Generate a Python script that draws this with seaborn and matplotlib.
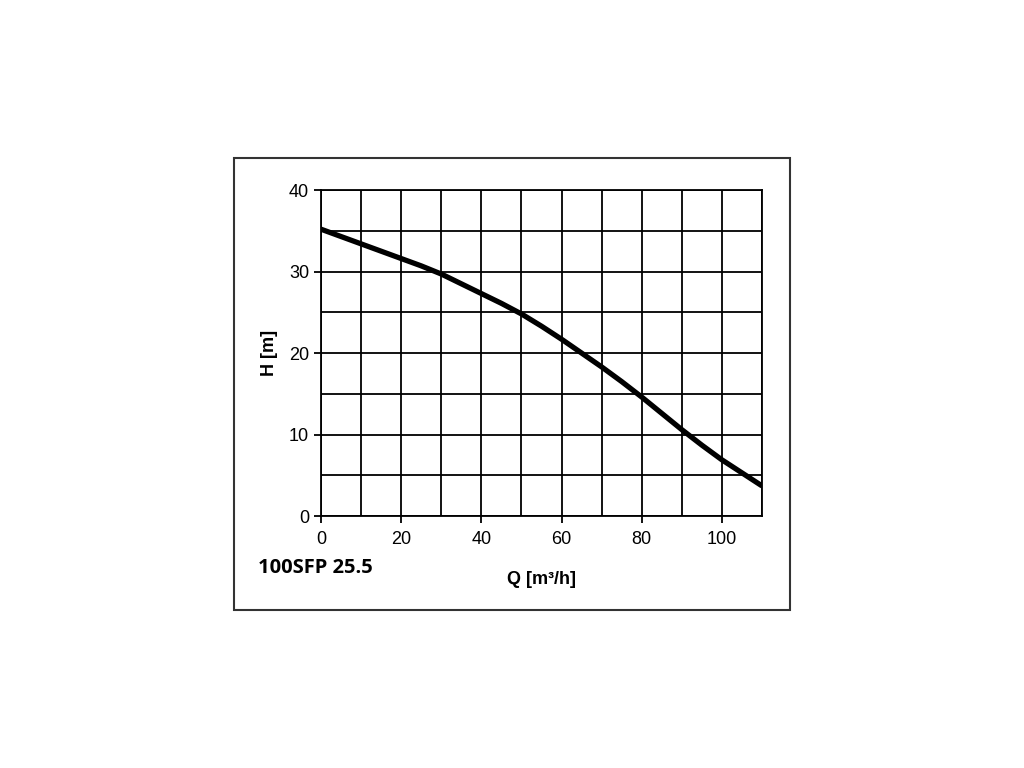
import numpy as np
import pandas as pd
import seaborn as sns
import matplotlib.pyplot as plt
from matplotlib.patches import Rectangle

# pump curve
q_flow = [0, 5, 10, 15, 20, 25, 30, 35, 40, 45, 50, 55,
          60, 65, 70, 75, 80, 85, 90, 95, 100, 105, 110]
h_head = [35.2, 34.3, 33.4, 32.5, 31.6, 30.7, 29.7, 28.5, 27.3, 26.1, 24.8, 23.3,
          21.7, 20.0, 18.3, 16.5, 14.6, 12.6, 10.6, 8.7, 6.9, 5.3, 3.7]
x_ticks = [0, 20, 40, 60, 80, 100]
y_ticks = [0, 10, 20, 30, 40]
model = "100SFP 25.5"

df = pd.DataFrame({"Q": q_flow, "H": h_head})

sns.set_style("white")
plt.rcParams['font.family'] = ['Liberation Sans', 'DejaVu Sans']
plt.rcParams['text.color'] = 'black'
plt.rcParams['axes.labelcolor'] = 'black'
plt.rcParams['xtick.color'] = 'black'
plt.rcParams['ytick.color'] = 'black'

fig = plt.figure(figsize=(10.24, 7.68), dpi=100)
ax = fig.add_axes([0.3135, 0.328, 0.4307, 0.4245])

sns.lineplot(data=df, x="Q", y="H", ax=ax, color="black", linewidth=3.8,
             solid_joinstyle="round", solid_capstyle="butt", zorder=3)

ax.set_xlim(0, 110)
ax.set_ylim(0, 40)
ax.set_xticks(x_ticks)
ax.set_yticks(y_ticks)
ax.set_xticks(np.arange(0, 111, 10), minor=True)
ax.set_yticks(np.arange(0, 41, 5), minor=True)
ax.grid(which="both", color="black", linewidth=1.3)
ax.tick_params(axis="both", which="major", length=5, width=1.3, color="black",
               labelsize=13, direction="out", bottom=True, left=True)
ax.tick_params(axis="x", which="major", pad=6)
ax.tick_params(which="minor", length=0)
for s in ax.spines.values():
    s.set_color("black")
    s.set_linewidth(1.3)

ax.set_xlabel("Q [m³/h]", fontsize=13, fontweight="bold", labelpad=16)
ax.set_ylabel("H [m]", fontsize=13, fontweight="bold", labelpad=8)

fig.text(258 / 1024, 1 - 568 / 768, model, fontsize=14.5, fontweight="bold",
         family=["Open Sans", "DejaVu Sans"], va="center", ha="left")

fig.patches.append(Rectangle((234 / 1024, 1 - 610 / 768), 556 / 1024, 452 / 768,
                             transform=fig.transFigure, fill=False,
                             edgecolor="#333333", linewidth=1.5))

fig.savefig("out.png", dpi=100, facecolor="white")
